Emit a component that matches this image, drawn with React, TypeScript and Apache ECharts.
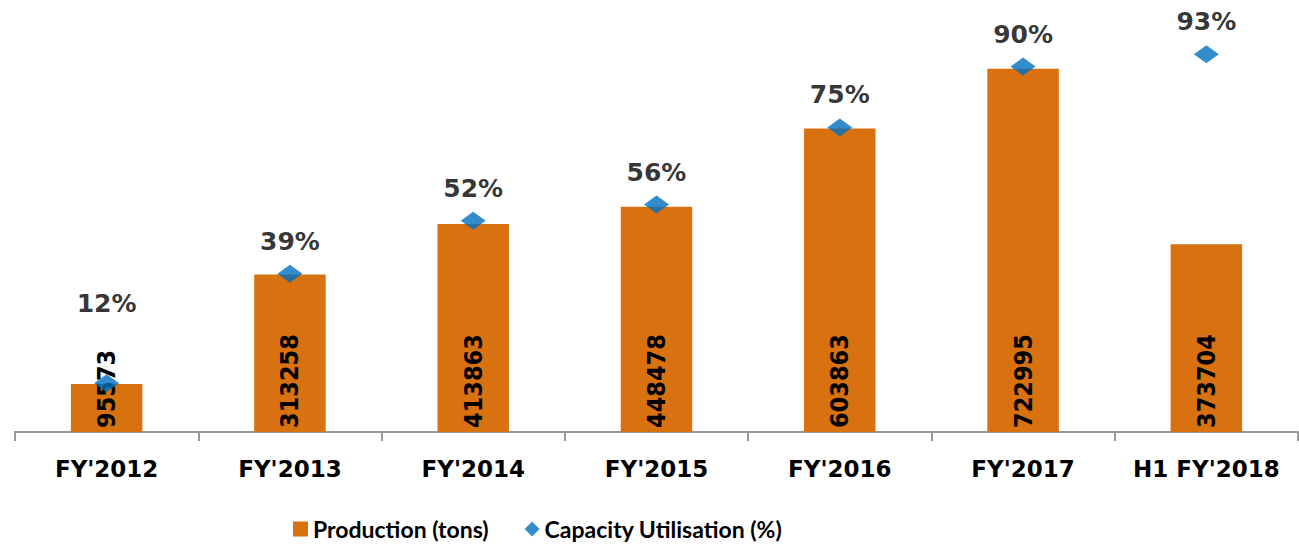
import React, { useEffect, useRef } from "react";
import * as echarts from "echarts";

const categories = ["FY'2012", "FY'2013", "FY'2014", "FY'2015", "FY'2016", "FY'2017", "H1 FY'2018"];
const production = [95573, 313258, 413863, 448478, 603863, 722995, 373704];
const utilisation = [12, 39, 52, 56, 75, 90, 93];
const productionName = "Production (tons)";
const utilisationName = "Capacity Utilisation (%)";

export default function App() {
  const ref = useRef<HTMLDivElement>(null);
  useEffect(() => {
    if (!ref.current) return;
    const chart = echarts.init(ref.current, undefined, { renderer: "svg" });
    chart.setOption({
      animation: false,
      backgroundColor: "#ffffff",
      grid: { left: 15, right: 1, top: 30, bottom: 113, containLabel: false },
      legend: {
        left: 288,
        top: 511,
        itemGap: 36,
        itemWidth: 15,
        itemHeight: 15,
        textStyle: { fontFamily: "Lato", fontWeight: "bold", fontSize: 23, color: "#000", lineHeight: 26 },
        data: [
          { name: productionName, icon: "rect" },
          { name: utilisationName, icon: "diamond" },
        ],
      },
      xAxis: {
        type: "category",
        data: categories,
        axisLine: { lineStyle: { color: "#989898", width: 2 } },
        axisTick: { show: true, length: 9, lineStyle: { color: "#989898", width: 2 } },
        axisLabel: {
          margin: 25,
          fontFamily: "DejaVu Sans",
          fontWeight: "bold",
          fontSize: 23,
          color: "#000",
          interval: 0,
        },
      },
      yAxis: [
        { type: "value", min: 0, max: 800000, show: false, splitLine: { show: false } },
        { type: "value", min: 0, max: 99, show: false, splitLine: { show: false } },
      ],
      series: [
        {
          name: productionName,
          type: "bar",
          data: production,
          barWidth: "39%",
          itemStyle: { color: "#D8710F" },
          label: {
            show: true,
            position: "insideBottom",
            rotate: 90,
            align: "left",
            verticalAlign: "middle",
            distance: 4,
            fontFamily: "DejaVu Sans Condensed",
            fontWeight: "bold",
            fontSize: 25,
            color: "#000",
          },
          z: 2,
        },
        {
          name: utilisationName,
          type: "scatter",
          yAxisIndex: 1,
          symbol: "diamond",
          symbolSize: [25, 18],
          itemStyle: { color: "#0070C0" },
          data: utilisation.map((v, i) =>
            i === 0 ? { value: v, label: { distance: 58 } } : v
          ),
          label: {
            show: true,
            position: "top",
            distance: 11,
            formatter: "{c}%",
            fontFamily: "DejaVu Sans",
            fontWeight: "bold",
            fontSize: 25,
            color: "#000",
          },
          z: 3,
        },
      ],
    });
    return () => chart.dispose();
  }, []);
  return <div ref={ref} style={{ width: 1299, height: 545, position: "absolute", left: 0, top: 0 }} />;
}
